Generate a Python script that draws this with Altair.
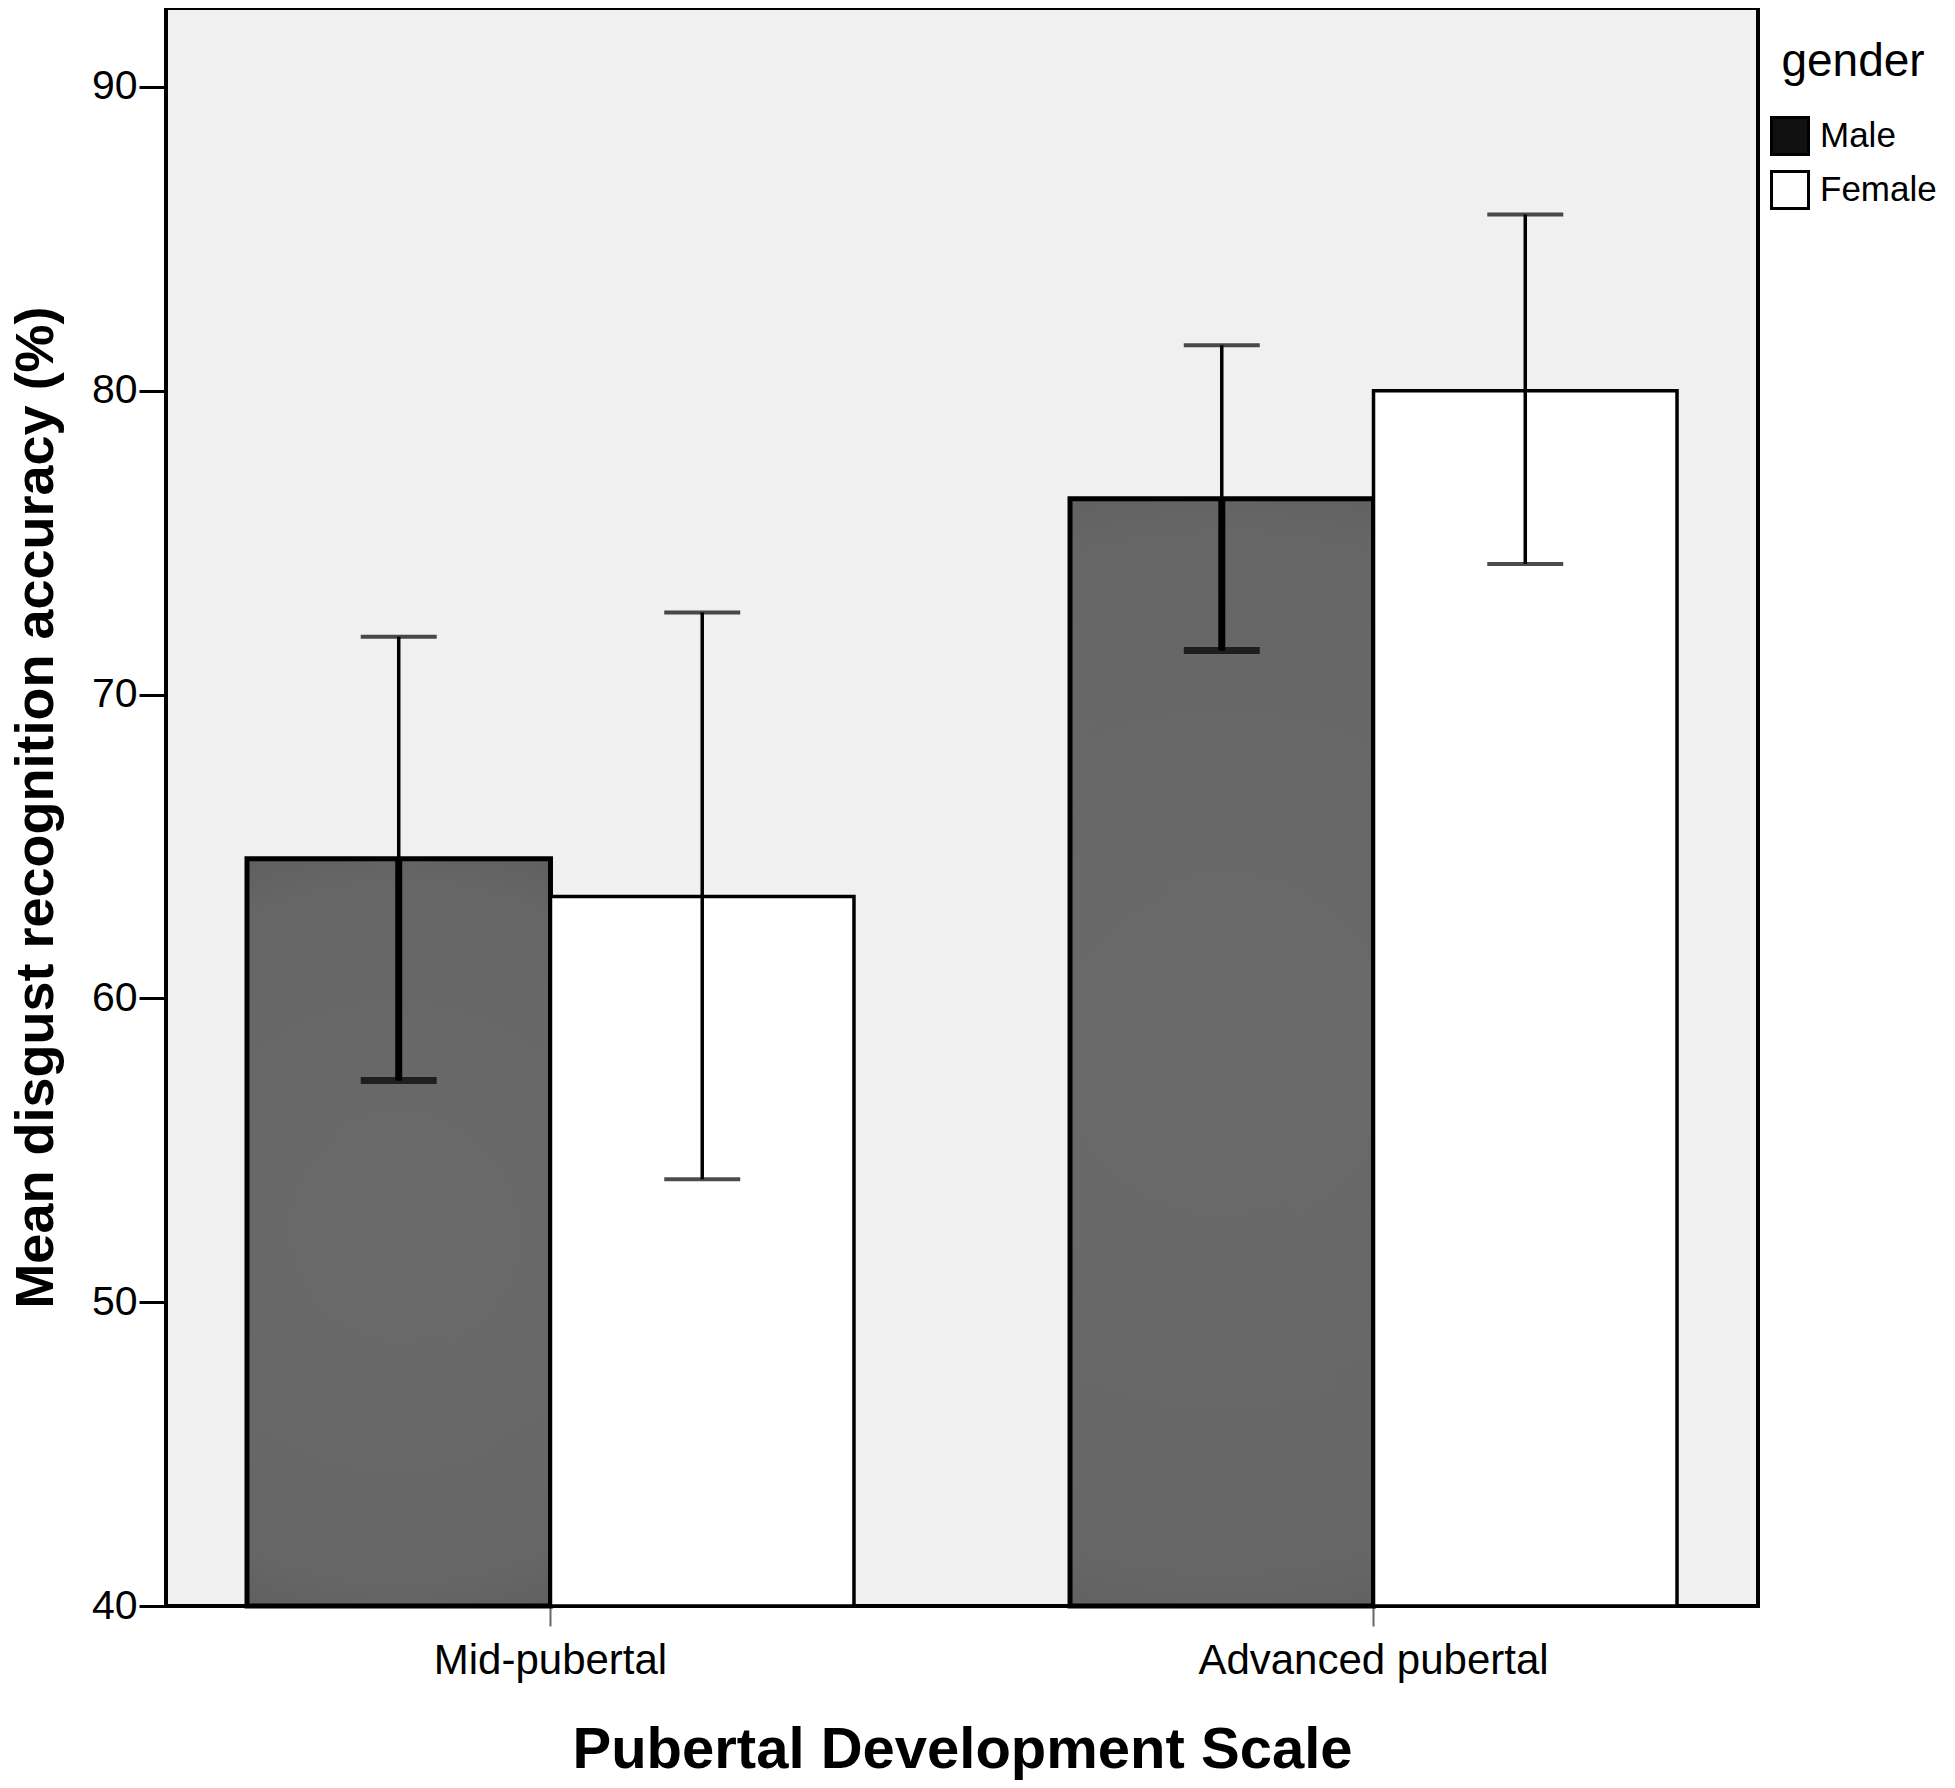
import altair as alt
import pandas as pd

stages = ["Mid-pubertal", "Mid-pubertal", "Advanced pubertal", "Advanced pubertal"]
genders = ["Male", "Female", "Male", "Female"]
means = [64.6, 63.35, 76.45, 80.0]
lows = [57.3, 54.05, 71.45, 74.3]
highs = [71.9, 72.7, 81.5, 85.8]

stage_order = ["Mid-pubertal", "Advanced pubertal"]
gender_order = ["Male", "Female"]
y_ticks = [40, 50, 60, 70, 80, 90]
y_min = 40

df = pd.DataFrame({"stage": stages, "gender": genders, "mean": means,
                   "low": lows, "high": highs})

FONT = "Liberation Sans"

x_enc = alt.X("stage:N", sort=stage_order,
              scale=alt.Scale(domain=stage_order, paddingInner=0.2625, paddingOuter=0.0984),
              axis=alt.Axis(title="Pubertal Development Scale", labelAngle=0, labelLimit=0,
                            domain=False, tickSize=20, tickColor="#666666", tickWidth=2,
                            labelPadding=14, labelFontSize=42, labelFont=FONT,
                            labelColor="black", titleFont=FONT, titleFontSize=58,
                            titleFontWeight="bold", titleColor="black", titlePadding=40))
xo_enc = alt.XOffset("gender:N", sort=gender_order,
                     scale=alt.Scale(domain=gender_order, paddingInner=0, paddingOuter=0))
y_scale = alt.Scale(domain=[40, 92.6], nice=False, zero=False)
y_enc = alt.Y("mean:Q", scale=y_scale,
              axis=alt.Axis(title="Mean disgust recognition accuracy (%)", values=y_ticks,
                            domain=False, grid=False, tickSize=27, tickWidth=3,
                            tickColor="black", labelPadding=2, labelFontSize=41,
                            labelFont=FONT, labelColor="black", titleFont=FONT,
                            titleFontSize=54, titleFontWeight="bold", titleColor="black",
                            titlePadding=28, titleLimit=0))

base = alt.Chart(df)

male_grad = {
    "gradient": "radial",
    "x1": 0.5, "y1": 0.5, "r1": 0,
    "x2": 0.5, "y2": 0.5, "r2": 0.72,
    "stops": [
        {"offset": 0, "color": "#6a6a6a"},
        {"offset": 0.65, "color": "#666666"},
        {"offset": 1, "color": "#505050"},
    ],
}

male_bars = base.transform_filter(alt.datum.gender == "Male").mark_bar(
    fill=male_grad, stroke="black", strokeWidth=5
).encode(x=x_enc, xOffset=xo_enc, y=y_enc, y2=alt.datum(y_min))

female_bars = base.transform_filter(alt.datum.gender == "Female").mark_bar(
    stroke="black", strokeWidth=3.5
).encode(
    x=x_enc, xOffset=xo_enc, y=y_enc, y2=alt.datum(y_min),
    fill=alt.Fill("gender:N", scale=alt.Scale(domain=gender_order, range=["#111111", "#ffffff"]),
                  legend=alt.Legend(title="gender")),
)

err_thin = base.mark_rule(color="black", strokeWidth=3.5).encode(
    x=x_enc, xOffset=xo_enc, y="low:Q", y2="high:Q")

err_thick = base.transform_filter(alt.datum.gender == "Male").mark_rule(
    color="black", strokeWidth=7).encode(x=x_enc, xOffset=xo_enc, y="low:Q", y2="mean:Q")

cap_high = base.mark_tick(color="black", size=76, thickness=4, orient="horizontal").encode(
    x=x_enc, xOffset=xo_enc, y=alt.Y("high:Q", scale=y_scale))

cap_low_m = base.transform_filter(alt.datum.gender == "Male").mark_tick(
    color="black", size=76, thickness=7, orient="horizontal").encode(
    x=x_enc, xOffset=xo_enc, y=alt.Y("low:Q", scale=y_scale))

cap_low_f = base.transform_filter(alt.datum.gender == "Female").mark_tick(
    color="black", size=76, thickness=4, orient="horizontal").encode(
    x=x_enc, xOffset=xo_enc, y=alt.Y("low:Q", scale=y_scale))

chart = alt.layer(
    male_bars, female_bars, err_thin, err_thick, cap_high, cap_low_m, cap_low_f
).properties(
    width=1592, height=1598,
    background="white",
    autosize=alt.AutoSizeParams(type="none"),
    padding={"left": 158, "top": 0, "right": 189, "bottom": 174},
).configure_view(
    stroke="black", strokeWidth=4, fill="#f0f0f0"
).configure_legend(
    orient="none", legendX=1604, legendY=32,
    titleFont=FONT, titleFontSize=46, titleFontWeight="normal", titleColor="black",
    titleAnchor="middle", titlePadding=30, titleLimit=0,
    labelFont=FONT, labelFontSize=35, labelColor="black", labelOffset=10, labelLimit=0,
    symbolType="square", symbolSize=1369, symbolStrokeColor="black",
    symbolStrokeWidth=3, rowPadding=4, padding=0,
)

chart.save("out.html", embed_options={"renderer": "svg", "actions": False})
